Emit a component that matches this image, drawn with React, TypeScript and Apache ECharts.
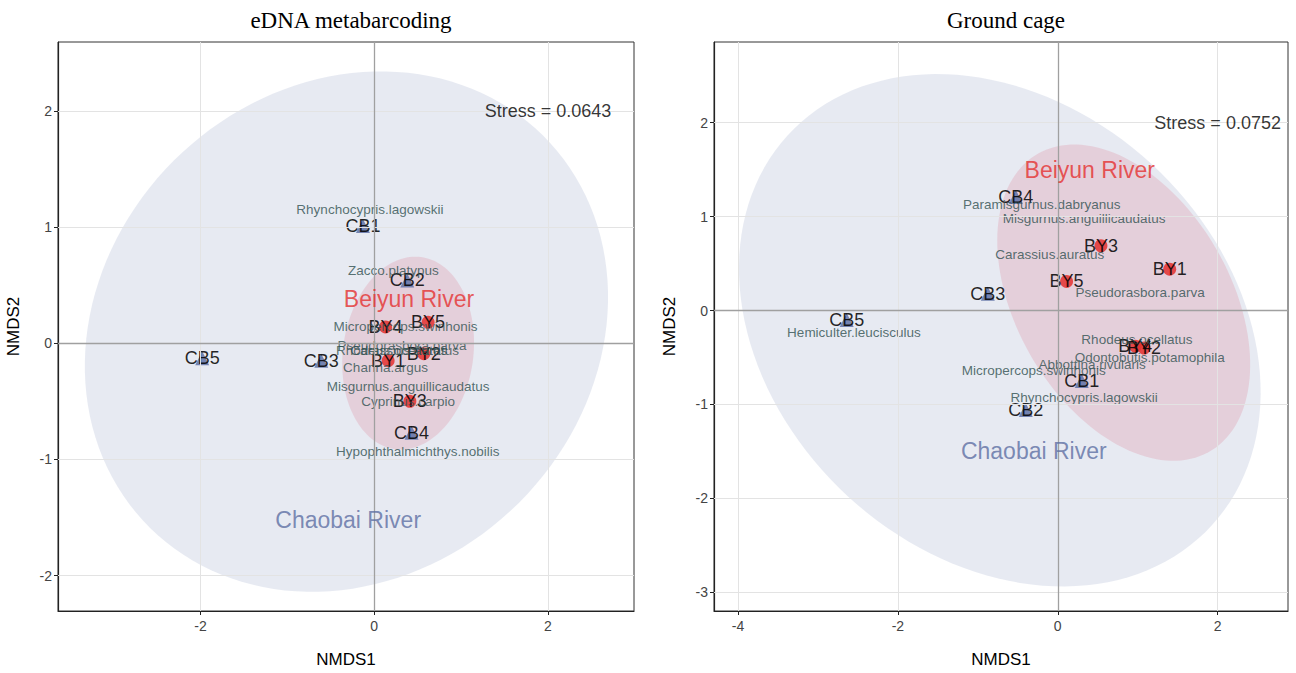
import React, { useEffect, useRef } from "react";
import * as echarts from "echarts";

// ---------- data ----------
const siteNames = ["CB1", "CB2", "CB3", "CB4", "CB5", "BY1", "BY2", "BY3", "BY4", "BY5"];
const siteRiver = ["Chaobai", "Chaobai", "Chaobai", "Chaobai", "Chaobai", "Beiyun", "Beiyun", "Beiyun", "Beiyun", "Beiyun"];

// eDNA metabarcoding NMDS
const ednaSiteX = [-0.13, 0.38, -0.61, 0.43, -1.98, 0.16, 0.57, 0.41, 0.13, 0.62];
const ednaSiteY = [1.01, 0.54, -0.15, -0.77, -0.13, -0.15, -0.09, -0.5, 0.14, 0.18];
const ednaSpecies = [
  "Rhynchocypris.lagowskii",
  "Zacco.platypus",
  "Micropercops.swinhonis",
  "Pseudorasbora.parva",
  "Rhodeus.ocellatus",
  "Carassius.auratus",
  "Channa.argus",
  "Misgurnus.anguillicaudatus",
  "Cyprinus.carpio",
  "Hypophthalmichthys.nobilis",
];
const ednaSpeciesX = [-0.05, 0.22, 0.36, 0.32, 0.2, 0.35, 0.13, 0.39, 0.39, 0.5];
const ednaSpeciesY = [1.15, 0.63, 0.14, -0.02, -0.06, -0.065, -0.21, -0.37, -0.5, -0.93];
const ednaStress = "Stress = 0.0643";

// Ground cage NMDS
const cageSiteX = [0.3, -0.4, -0.875, -0.525, -2.64, 1.4, 1.08, 0.54, 0.97, 0.11];
const cageSiteY = [-0.75, -1.06, 0.18, 1.21, -0.1, 0.44, -0.4, 0.69, -0.38, 0.31];
const cageSpecies = [
  "Paramisgurnus.dabryanus",
  "Misgurnus.anguillicaudatus",
  "Carassius.auratus",
  "Pseudorasbora.parva",
  "Hemiculter.leucisculus",
  "Rhodeus.ocellatus",
  "Odontobutis.potamophila",
  "Abbottina.rivularis",
  "Micropercops.swinhonis",
  "Rhynchocypris.lagowskii",
];
const cageSpeciesX = [-0.2, 0.33, -0.1, 1.03, -2.55, 0.99, 1.15, 0.43, -0.3, 0.33];
const cageSpeciesY = [1.13, 0.98, 0.6, 0.19, -0.23, -0.31, -0.5, -0.58, -0.64, -0.93];
const cageStress = "Stress = 0.0752";

// Group ellipses: centre and two conjugate semi-axis vectors, in NMDS units
const ednaEllipseChaobai = { cx: -0.32, cy: 0.1, ux: 2.26, uy: 1.69, vx: 1.99, vy: -1.47 };
const ednaEllipseBeiyun = { cx: 0.39, cy: -0.085, ux: 0.148, uy: 0.827, vx: 0.744, vy: -0.072 };
const cageEllipseChaobai = { cx: -0.725, cy: -0.21, ux: 2.57, uy: -2.15, vx: -2.01, vy: -1.68 };
const cageEllipseBeiyun = { cx: 0.825, cy: 0.084, ux: 1.059, uy: -1.593, vx: -1.175, vy: -0.546 };

// Group label anchors
const groupLabels = ["Beiyun River", "Chaobai River"];
const ednaGroupLabelX = [0.4, -0.3];
const ednaGroupLabelY = [0.38, -1.52];
const cageGroupLabelX = [0.4, -0.3];
const cageGroupLabelY = [1.5, -1.5];
const stressX = 2.0;
const stressY = 2.0;

// Axis ranges and ticks
const ednaXRange = [-3.64, 2.99];
const ednaYRange = [-2.305, 2.593];
const ednaXTicks = [-2, 0, 2];
const ednaYTicks = [-2, -1, 0, 1, 2];
const cageXRange = [-4.3, 2.88];
const cageYRange = [-3.2, 2.86];
const cageXTicks = [-4, -2, 0, 2];
const cageYTicks = [-3, -2, -1, 0, 1, 2];

// ---------- styling ----------
const SANS = "'Liberation Sans', Arial, sans-serif";
const SERIF = "'Liberation Serif', 'Times New Roman', serif";
const RED = "#e4302f";
const BLUE = "#5f71a6";
const CHAOBAI_FILL = "rgba(115,130,175,0.17)";
const BEIYUN_FILL = "rgba(220,100,125,0.2)";

type Ell = { cx: number; cy: number; ux: number; uy: number; vx: number; vy: number };

function ellipseSeries(e: Ell, idx: number, fill: string) {
  return {
    type: "custom",
    xAxisIndex: idx,
    yAxisIndex: idx,
    z: 1,
    silent: true,
    clip: true,
    data: [[e.cx, e.cy]],
    renderItem: (_params: any, api: any) => {
      const pts: number[][] = [];
      const n = 144;
      for (let k = 0; k < n; k++) {
        const t = (2 * Math.PI * k) / n;
        pts.push(
          api.coord([
            e.cx + e.ux * Math.cos(t) + e.vx * Math.sin(t),
            e.cy + e.uy * Math.cos(t) + e.vy * Math.sin(t),
          ])
        );
      }
      return { type: "polygon", shape: { points: pts }, style: { fill } };
    },
  };
}

function gridLineSeries(idx: number, xt: number[], yt: number[]) {
  return {
    type: "scatter",
    xAxisIndex: idx,
    yAxisIndex: idx,
    data: [],
    z: 0,
    silent: true,
    markLine: {
      silent: true,
      symbol: ["none", "none"],
      label: { show: false },
      animation: false,
      lineStyle: { color: "#e3e3e3", width: 1, type: "solid" },
      data: [...xt.map((v) => ({ xAxis: v })), ...yt.map((v) => ({ yAxis: v }))],
    },
  };
}

function zeroLineSeries(idx: number) {
  return {
    type: "scatter",
    xAxisIndex: idx,
    yAxisIndex: idx,
    data: [],
    z: 2,
    silent: true,
    markLine: {
      silent: true,
      symbol: ["none", "none"],
      label: { show: false },
      animation: false,
      lineStyle: { color: "#a0a0a0", width: 1.3, type: "solid" },
      data: [{ xAxis: 0 }, { yAxis: 0 }],
    },
  };
}

function siteSeries(idx: number, xs: number[], ys: number[], river: string) {
  const isC = river === "Chaobai";
  const data = siteNames
    .map((n, i) => ({ name: n, value: [xs[i], ys[i]], r: siteRiver[i] }))
    .filter((d) => d.r === river)
    .map((d) => ({ name: d.name, value: d.value }));
  return {
    type: "scatter",
    xAxisIndex: idx,
    yAxisIndex: idx,
    z: 3,
    symbol: isC ? "triangle" : "circle",
    symbolSize: isC ? 14 : 13,
    itemStyle: { color: isC ? BLUE : RED, opacity: 0.85 },
    label: {
      show: true,
      position: "inside",
      formatter: "{b}",
      color: "#000",
      fontSize: 18,
      fontFamily: SANS,
    },
    data,
  };
}

function textSeries(idx: number, names: string[], xs: number[], ys: number[], color: string, size: number, z = 4) {
  return {
    type: "scatter",
    xAxisIndex: idx,
    yAxisIndex: idx,
    z,
    silent: true,
    symbol: "circle",
    symbolSize: 1,
    itemStyle: { color: "rgba(0,0,0,0)" },
    label: {
      show: true,
      position: "inside",
      formatter: "{b}",
      color,
      fontSize: size,
      fontFamily: SANS,
    },
    data: names.map((n, i) => ({ name: n, value: [xs[i], ys[i]] })),
  };
}

function groupLabelSeries(idx: number, xs: number[], ys: number[]) {
  const colors = [RED, "#5d6fa3"];
  return {
    type: "scatter",
    xAxisIndex: idx,
    yAxisIndex: idx,
    z: 5,
    silent: true,
    symbolSize: 1,
    itemStyle: { color: "rgba(0,0,0,0)" },
    data: groupLabels.map((n, i) => ({
      name: n,
      value: [xs[i], ys[i]],
      label: {
        show: true,
        position: "inside",
        formatter: "{b}",
        color: colors[i],
        fontSize: 23,
        fontFamily: SANS,
      },
    })),
  };
}

function xAxisCfg(idx: number, range: number[], ticks: number[]) {
  return {
    type: "value",
    gridIndex: idx,
    min: range[0],
    max: range[1],
    name: "NMDS1",
    nameLocation: "middle",
    nameGap: 40,
    nameTextStyle: { fontSize: 17, color: "#000", fontFamily: SANS },
    splitLine: { show: false },
    axisLine: { show: true, onZero: false, lineStyle: { color: "#222", width: 1.2 } },
    axisTick: { show: true, length: 4, customValues: ticks, lineStyle: { color: "#222" } },
    axisLabel: { customValues: ticks, color: "#444", fontSize: 14, margin: 8, fontFamily: SANS },
  };
}

function yAxisCfg(idx: number, range: number[], ticks: number[]) {
  return {
    type: "value",
    gridIndex: idx,
    min: range[0],
    max: range[1],
    name: "NMDS2",
    nameLocation: "middle",
    nameGap: 36,
    nameTextStyle: { fontSize: 17, color: "#000", fontFamily: SANS },
    splitLine: { show: false },
    axisLine: { show: true, onZero: false, lineStyle: { color: "#222", width: 1.2 } },
    axisTick: { show: true, length: 4, customValues: ticks, lineStyle: { color: "#222" } },
    axisLabel: { customValues: ticks, color: "#444", fontSize: 14, margin: 6, fontFamily: SANS },
  };
}

export default function App() {
  const ref = useRef<HTMLDivElement>(null);
  useEffect(() => {
    if (!ref.current) return;
    const chart = echarts.init(ref.current, undefined, { renderer: "svg" });
    const option: any = {
      animation: false,
      backgroundColor: "#fff",
      title: [
        {
          text: "eDNA metabarcoding",
          left: 346,
          top: 4,
          textAlign: "center",
          textStyle: { fontFamily: SERIF, fontSize: 23, fontWeight: "normal", color: "#000" },
        },
        {
          text: "Ground cage",
          left: 1001,
          top: 4,
          textAlign: "center",
          textStyle: { fontFamily: SERIF, fontSize: 23, fontWeight: "normal", color: "#000" },
        },
      ],
      grid: [
        { left: 58, top: 42, width: 576, height: 578, show: true, borderColor: "#333", borderWidth: 1, backgroundColor: "#fff" },
        { left: 714, top: 42, width: 574, height: 579, show: true, borderColor: "#333", borderWidth: 1, backgroundColor: "#fff" },
      ],
      xAxis: [xAxisCfg(0, ednaXRange, ednaXTicks), xAxisCfg(1, cageXRange, cageXTicks)],
      yAxis: [yAxisCfg(0, ednaYRange, ednaYTicks), yAxisCfg(1, cageYRange, cageYTicks)],
      series: [
        gridLineSeries(0, ednaXTicks, ednaYTicks),
        gridLineSeries(1, cageXTicks, cageYTicks),
        ellipseSeries(ednaEllipseChaobai, 0, CHAOBAI_FILL),
        ellipseSeries(ednaEllipseBeiyun, 0, BEIYUN_FILL),
        ellipseSeries(cageEllipseChaobai, 1, CHAOBAI_FILL),
        ellipseSeries(cageEllipseBeiyun, 1, BEIYUN_FILL),
        zeroLineSeries(0),
        zeroLineSeries(1),
        siteSeries(0, ednaSiteX, ednaSiteY, "Chaobai"),
        siteSeries(0, ednaSiteX, ednaSiteY, "Beiyun"),
        siteSeries(1, cageSiteX, cageSiteY, "Chaobai"),
        siteSeries(1, cageSiteX, cageSiteY, "Beiyun"),
        textSeries(0, ednaSpecies, ednaSpeciesX, ednaSpeciesY, "#2f4f4f", 13.5),
        textSeries(1, cageSpecies, cageSpeciesX, cageSpeciesY, "#2f4f4f", 13.5),
        groupLabelSeries(0, ednaGroupLabelX, ednaGroupLabelY),
        groupLabelSeries(1, cageGroupLabelX, cageGroupLabelY),
        textSeries(0, [ednaStress], [stressX], [stressY], "#000", 18, 5),
        textSeries(1, [cageStress], [stressX], [stressY], "#000", 18, 5),
      ],
    };
    chart.setOption(option);
    return () => chart.dispose();
  }, []);
  return (
    <div
      ref={ref}
      style={{ position: "fixed", left: 0, top: 0, width: 1296, height: 673, background: "#fff" }}
    />
  );
}
